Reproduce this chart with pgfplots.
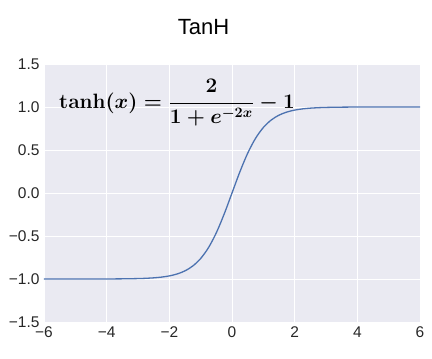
\documentclass[border=0pt]{standalone}
\usepackage{amsmath}
\usepackage{pgfplots}
\pgfplotsset{compat=1.18}
\usepackage[no-math]{fontspec}
\setmainfont{Liberation Sans}
\definecolor{sbbg}{HTML}{EAEAF2}
\definecolor{sbblue}{HTML}{4C72B0}
\begin{document}
\begin{tikzpicture}
\path (0pt,0pt) rectangle (432pt,359pt);
\begin{axis}[
  at={(44pt,37pt)}, anchor=south west,
  scale only axis, width=376pt, height=258pt,
  xmin=-6, xmax=6, ymin=-1.5, ymax=1.5,
  axis background/.style={fill=sbbg},
  axis line style={draw=none},
  major tick length=0pt,
  grid=major, grid style={white, line width=0.9pt},
  xtick={-6,-4,-2,0,2,4,6},
  xticklabels={−6,−4,−2,0,2,4,6},
  ytick={-1.5,-1,-0.5,0,0.5,1,1.5},
  yticklabels={−1.5,−1.0,−0.5,0.0,0.5,1.0,1.5},
  tick label style={font=\fontsize{15.5}{15.5}\selectfont, text=black!85},
  xticklabel style={yshift=-1.5pt},
  yticklabel style={xshift=-1pt},
]
\addplot[sbblue, line width=1.3pt, smooth] coordinates {
(-6,-0.999988) (-5,-0.999909) (-4,-0.999329) (-3.5,-0.998178) (-3,-0.995055)
(-2.75,-0.991815) (-2.5,-0.986614) (-2.25,-0.978026) (-2,-0.964028) (-1.75,-0.941376)
(-1.5,-0.905148) (-1.25,-0.848284) (-1,-0.761594) (-0.75,-0.635149) (-0.5,-0.462117)
(-0.25,-0.244919) (0,0) (0.25,0.244919) (0.5,0.462117) (0.75,0.635149)
(1,0.761594) (1.25,0.848284) (1.5,0.905148) (1.75,0.941376) (2,0.964028)
(2.25,0.978026) (2.5,0.986614) (2.75,0.991815) (3,0.995055) (3.5,0.998178)
(4,0.999329) (5,0.999909) (6,0.999988)
};
\end{axis}
\node[anchor=west, inner sep=0pt, font=\fontsize{21}{21}\selectfont\boldmath] at (59pt,256pt) {$\tanh(x)=\dfrac{2}{1+e^{-2x}}-1$};
\node[font=\fontsize{22}{22}\selectfont] at (203.5pt,332pt) {TanH};
\end{tikzpicture}
\end{document}
